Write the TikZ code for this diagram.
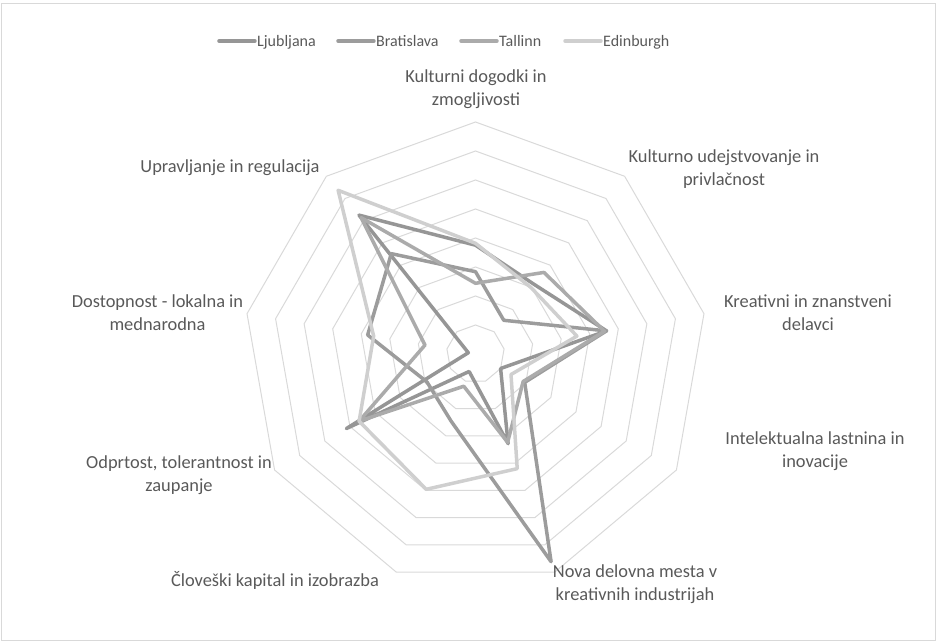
\documentclass[tikz,border=0pt]{standalone}
\usepackage{fontspec}
\setmainfont{Carlito}
\usepackage{tikz}
\usetikzlibrary{shapes.geometric}
\definecolor{gridcol}{HTML}{D9D9D9}
\definecolor{txtcol}{HTML}{595959}
\definecolor{ljcol}{HTML}{969696}
\definecolor{bacol}{HTML}{9C9C9C}
\definecolor{tacol}{HTML}{ABABAB}
\definecolor{edcol}{HTML}{CFCFCF}

\begin{document}
\begin{tikzpicture}[x=1pt, y=1pt,
	ring/.style = {draw=gridcol, line width=1pt, regular polygon, regular polygon sides=9, inner sep=0pt, outer sep=0pt},
	series/.style = {draw=#1, line width=3.5pt, line join=round},
	axlab/.style = {text=txtcol, font=\fontsize{18.4}{23}\selectfont, align=center, inner sep=0pt},
	legtext/.style = {text=txtcol, font=\fontsize{16}{19}\selectfont, inner sep=0pt, anchor=base west},
	legline/.style = {draw=#1, line width=3.5pt, line cap=round}]
		\useasboundingbox (-475.5,-288) rectangle (461.5,354);
		\draw[gridcol, line width=1pt] (-474,350.5) rectangle (460,-286);
		\node[ring, minimum size=58pt] (r1) at (0,0) {};
		\node[ring, minimum size=116pt] (r2) at (0,0) {};
		\node[ring, minimum size=174pt] (r3) at (0,0) {};
		\node[ring, minimum size=232pt] (r4) at (0,0) {};
		\node[ring, minimum size=290pt] (r5) at (0,0) {};
		\node[ring, minimum size=348pt] (r6) at (0,0) {};
		\node[ring, minimum size=406pt] (r7) at (0,0) {};
		\node[ring, minimum size=464pt] (r8) at (0,0) {};
		\node[axlab] (a0) at (0.5,264.5) {Kulturni dogodki in\\zmogljivosti};
		\node[axlab] (a1) at (248.5,184.5) {Kulturno udejstvovanje in\\privlačnost};
		\node[axlab] (a2) at (332.5,41.5) {Kreativni in znanstveni\\delavci};
		\node[axlab] (a3) at (339.5,-97.5) {Intelektualna lastnina in\\inovacije};
		\node[axlab] (a4) at (159.5,-230) {Nova delovna mesta v\\kreativnih industrijah};
		\node[axlab] (a5) at (-200.5,-226) {Človeški kapital in izobrazba};
		\node[axlab] (a6) at (-296.5,-121.5) {Odprtost, tolerantnost in\\zaupanje};
		\node[axlab] (a7) at (-318,41.5) {Dostopnost - lokalna in\\mednarodna};
		\node[axlab] (a8) at (-245.5,186) {Upravljanje in regulacija};
		\draw[series=ljcol] (90:108.8) -- (50:91) -- (10:133.1) -- (-30:29) -- (-70:95.4) -- (-110:18.6) -- (-150:149.1) -- (170:7.3) -- (130:181.3) -- cycle;
		\draw[series=bacol] (90:82.3) -- (50:44) -- (10:133) -- (-30:56.8) -- (-70:221) -- (-110:71.4) -- (-150:56) -- (170:109.5) -- (130:131) -- cycle;
		\draw[series=tacol] (90:70.7) -- (50:106.5) -- (10:131) -- (-30:55) -- (-70:94) -- (-110:34.3) -- (-150:134.5) -- (170:51.3) -- (130:178) -- cycle;
		\draw[series=edcol] (90:110.7) -- (50:86.6) -- (10:103) -- (-30:41) -- (-70:122) -- (-110:144) -- (-150:134.4) -- (170:103.4) -- (130:213.7) -- cycle;
		\node[legtext] (lj) at (-218.5,307.5) {Ljubljana};
		\node[legtext] (ba) at (-99.5,307.5) {Bratislava};
		\node[legtext] (ta) at (23.5,307.5) {Tallinn};
		\node[legtext] (ed) at (127.5,307.5) {Edinburgh};
		\draw[legline=ljcol] ([shift={(-38pt,5.5pt)}]lj.base west) -- ([shift={(-2pt,5.5pt)}]lj.base west);
		\draw[legline=bacol] ([shift={(-38pt,5.5pt)}]ba.base west) -- ([shift={(-2pt,5.5pt)}]ba.base west);
		\draw[legline=tacol] ([shift={(-38pt,5.5pt)}]ta.base west) -- ([shift={(-2pt,5.5pt)}]ta.base west);
		\draw[legline=edcol] ([shift={(-38pt,5.5pt)}]ed.base west) -- ([shift={(-2pt,5.5pt)}]ed.base west);
	\end{tikzpicture}
\end{document}
